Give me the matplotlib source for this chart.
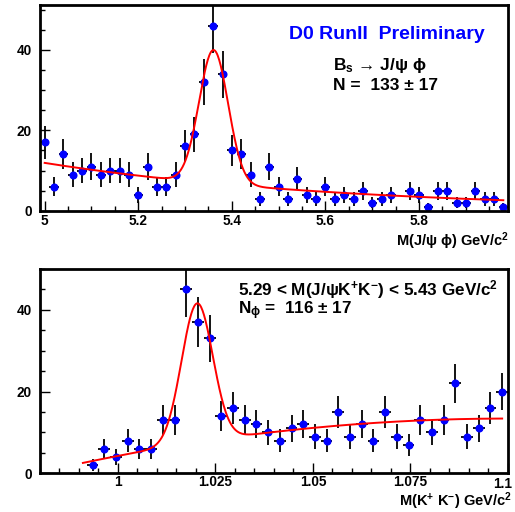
import numpy as np
import matplotlib
matplotlib.use("Agg")
import matplotlib.pyplot as plt
from matplotlib.ticker import MultipleLocator, FormatStrFormatter, FuncFormatter

plt.rcParams['font.family'] = ['Liberation Sans', 'DejaVu Sans']
plt.rcParams['font.weight'] = 'bold'
plt.rcParams['mathtext.fontset'] = 'custom'
plt.rcParams['mathtext.rm'] = 'Liberation Sans:bold'
plt.rcParams['mathtext.it'] = 'Liberation Sans:bold'
plt.rcParams['mathtext.bf'] = 'Liberation Sans:bold'

# --- M(J/psi phi), 20 MeV bins starting at 4.99
bs_lo, bs_w = 4.99, 0.02
bs_counts = [17, 6, 14, 9, 10, 11, 9, 10, 10, 9,
             4, 11, 6, 6, 9, 16, 19, 32, 46, 34,
             15, 14, 9, 3, 11, 6, 3, 8, 4, 3,
             6, 3, 4, 3, 5, 2, 3, 4, 0, 5,
             4, 1, 5, 5, 2, 2, 5, 3, 3, 1]
# fit: exp background + gaussian
bs_bkg_a, bs_bkg_slope = 11.9, 1.55
bs_sig_a, bs_mean, bs_sigma = 33.2, 5.361, 0.031

# --- M(K+K-), 3 MeV bins starting at 0.992
kk_lo, kk_w = 0.992, 0.003
kk_counts = [2, 6, 4, 8, 6, 6, 13, 13, 45, 37,
             33, 14, 16, 13, 12, 10, 8, 11, 12, 9,
             8, 15, 9, 12, 8, 15, 9, 7, 13, 10,
             13, 22, 9, 11, 16, 20]
# fit: quadratic background + gaussian
kk_bkg_top, kk_bkg_curv, kk_bkg_x0 = 13.4, 914.0, 1.1
kk_sig_a, kk_mean, kk_sigma = 34.0, 1.0203, 0.004


def draw_hist(ax, lo, w, counts):
    counts = np.array(counts, dtype=float)
    x = lo + w * (np.arange(len(counts)) + 0.5)
    m = counts > 0
    ax.errorbar(x[m], counts[m], xerr=w / 2, yerr=np.sqrt(counts[m]),
                fmt='o', color='#0000ff', ms=4.8, mec='#0000ff',
                ecolor='black', elinewidth=1.3, capsize=0, zorder=2)
    return x


def style_ax(ax, xmaj, xmin_, xfmt, xpad):
    for s in ax.spines.values():
        s.set_linewidth(2.0)
    ax.xaxis.set_major_locator(MultipleLocator(xmaj))
    ax.xaxis.set_minor_locator(MultipleLocator(xmin_))
    ax.yaxis.set_major_locator(MultipleLocator(20))
    ax.yaxis.set_minor_locator(MultipleLocator(5))
    ax.xaxis.set_major_formatter(xfmt)
    ax.yaxis.set_major_formatter(FormatStrFormatter('%g'))
    ax.tick_params(which='both', direction='in', top=False, right=False,
                   labelsize=9.8, width=1.0)
    ax.tick_params(which='major', length=7)
    ax.tick_params(which='minor', length=3.5)
    ax.tick_params(axis='y', pad=6)
    ax.tick_params(axis='x', pad=xpad)


fig = plt.figure(figsize=(5.15, 5.12), dpi=100)

# top panel
ax1 = fig.add_axes([40 / 515, 1 - 210.7 / 512, 468 / 515, 205.7 / 512])
xb = draw_hist(ax1, bs_lo, bs_w, bs_counts)
xf = np.linspace(xb[0], xb[-1], 600)
yf = bs_bkg_a * np.exp(-bs_bkg_slope * (xf - 5.0)) + \
    bs_sig_a * np.exp(-0.5 * ((xf - bs_mean) / bs_sigma) ** 2)
ax1.plot(xf, yf, color='red', lw=1.4, zorder=3)
ax1.set_xlim(4.99, 5.99)
ax1.set_ylim(0, 51.2)
style_ax(ax1, 0.2, 0.05, FormatStrFormatter('%g'), 2.5)
ax1.text(0.741, 0.855, 'D0 RunII  Preliminary', transform=ax1.transAxes,
         ha='center', va='center', color='#0000ff', fontsize=14,
         fontweight='bold')
ax1.text(0.626, 0.685, 'B$_{s}$ → J/ψ ϕ', transform=ax1.transAxes,
         ha='left', va='baseline', fontsize=12.5, fontweight='bold')
ax1.text(0.626, 0.585, 'N =  133 ± 17', transform=ax1.transAxes,
         ha='left', va='baseline', fontsize=12.5, fontweight='bold')
fig.text(509 / 515, 1 - 246 / 512, 'M(J/ψ ϕ) GeV/c$^{2}$', ha='right',
         va='baseline', fontsize=10.5, fontweight='bold')

# bottom panel
ax2 = fig.add_axes([40 / 515, 1 - 473.3 / 512, 468 / 515, 204.3 / 512])
xk = draw_hist(ax2, kk_lo, kk_w, kk_counts)
xf2 = np.linspace(0.991, xk[-1], 600)
yf2 = kk_bkg_top - kk_bkg_curv * (xf2 - kk_bkg_x0) ** 2 + \
    kk_sig_a * np.exp(-0.5 * ((xf2 - kk_mean) / kk_sigma) ** 2)
ax2.plot(xf2, yf2, color='red', lw=1.4, zorder=3)
ax2.set_xlim(0.98, 1.1)
ax2.set_ylim(0, 50)
# last label (1.1) sits on the frame edge, drawn separately so it stays inside
kk_fmt = FuncFormatter(lambda v, p: '' if v > 1.099 else '%g' % v)
style_ax(ax2, 0.025, 0.005, kk_fmt, 1.5)
ax2.annotate('1.1', xy=(1.0, 0), xycoords='axes fraction', xytext=(3, -2.7),
             textcoords='offset points', ha='right', va='top',
             fontsize=9.8, fontweight='bold')
ax2.text(0.423, 0.87, '5.29 < M(J/ψK$^{+}$K$^{-}$) < 5.43 GeV/c$^{2}$',
         transform=ax2.transAxes, ha='left', va='baseline', fontsize=12.3,
         fontweight='bold')
ax2.text(0.423, 0.78, 'N$_{ϕ}$ =  116 ± 17', transform=ax2.transAxes,
         ha='left', va='baseline', fontsize=12.3, fontweight='bold')
fig.text(512 / 515, 1 - 506 / 512, 'M(K$^{+}$ K$^{-}$) GeV/c$^{2}$',
         ha='right', va='baseline', fontsize=10.5, fontweight='bold')

fig.savefig('out.png', dpi=100)
